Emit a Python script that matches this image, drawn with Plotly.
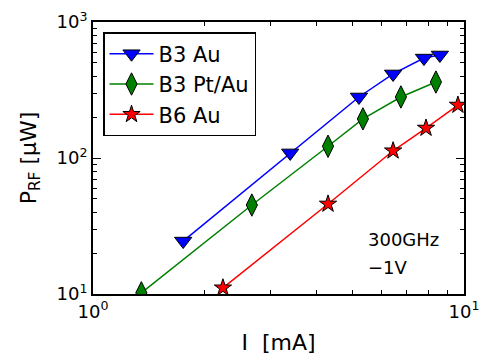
import plotly.graph_objects as go

b3_au_i = [1.75, 3.40, 5.21, 6.44, 7.80, 8.61]
b3_au_p = [24.5, 109, 281, 415, 543, 572]

b3_ptau_i = [1.35, 2.68, 4.30, 5.34, 6.76, 8.40]
b3_ptau_p = [10.2, 45.1, 122, 194, 281, 362]

b6_au_i = [2.24, 4.30, 6.44, 7.90, 9.63]
b6_au_p = [11.1, 45.9, 113, 166, 245]

font = "DejaVu Sans"

fig = go.Figure()
fig.add_trace(go.Scatter(
    x=b3_au_i, y=b3_au_p, mode="lines+markers", name="B3 Au",
    line=dict(color="#0000ff", width=1.5),
    marker=dict(symbol="triangle-down", size=15, color="#0000ff",
                line=dict(color="black", width=1))))
fig.add_trace(go.Scatter(
    x=b3_ptau_i, y=b3_ptau_p, mode="lines+markers", name="B3 Pt/Au",
    line=dict(color="#008000", width=1.5),
    marker=dict(symbol="diamond-tall", size=16, color="#008000",
                line=dict(color="black", width=1))))
fig.add_trace(go.Scatter(
    x=b6_au_i, y=b6_au_p, mode="lines+markers", name="B6 Au",
    line=dict(color="#ff0000", width=1.5),
    marker=dict(symbol="star", size=13, color="#ff0000",
                line=dict(color="black", width=1))))

xminor = [2, 3, 4, 5, 6, 7, 8, 9]
yminor = [v * m for m in (10, 100) for v in xminor]

fig.update_layout(
    width=482, height=360,
    margin=dict(l=93, r=18, t=22, b=66),
    paper_bgcolor="white", plot_bgcolor="white",
    font=dict(family=font, size=18, color="black"),
    showlegend=True,
    legend=dict(x=0.027, y=0.963, xanchor="left", yanchor="top",
                bordercolor="black", borderwidth=1.5, bgcolor="white",
                font=dict(size=21), itemwidth=44, tracegroupgap=4),
    xaxis=dict(
        type="log", range=[0, 1], automargin=False,
        tickvals=[1, 10], ticktext=["10<sup>0</sup>", "10<sup>1</sup>"],
        ticks="inside", ticklen=8, tickwidth=1, tickcolor="black",
        minor=dict(tickvals=xminor, ticks="inside", ticklen=4, tickcolor="black"),
        showline=True, linecolor="black", linewidth=2, mirror="allticks",
        showgrid=False, zeroline=False,
        title=dict(text="I  [mA]", font=dict(size=22), standoff=14)),
    yaxis=dict(
        type="log", range=[1, 3], automargin=False,
        tickvals=[10, 100, 1000],
        ticktext=["10<sup>1</sup>", "10<sup>2</sup>", "10<sup>3</sup>"],
        ticks="inside", ticklen=8, tickwidth=1, tickcolor="black",
        minor=dict(tickvals=yminor, ticks="inside", ticklen=4, tickcolor="black"),
        showline=True, linecolor="black", linewidth=2, mirror="allticks",
        showgrid=False, zeroline=False,
        title=dict(text="P<sub>RF</sub> [μW]", font=dict(size=22), standoff=14)),
)

fig.add_annotation(x=0.735, y=0.199, xref="paper", yref="paper",
                   xanchor="left", yanchor="middle", showarrow=False,
                   text="300GHz", font=dict(size=18))
fig.add_annotation(x=0.735, y=0.096, xref="paper", yref="paper",
                   xanchor="left", yanchor="middle", showarrow=False,
                   text="\u22121V", font=dict(size=18))

# drop the default body margin so the figure sits at the page corner
fig.write_html("out.html", config={"displayModeBar": False},
               post_script="document.body.style.margin='0';")
